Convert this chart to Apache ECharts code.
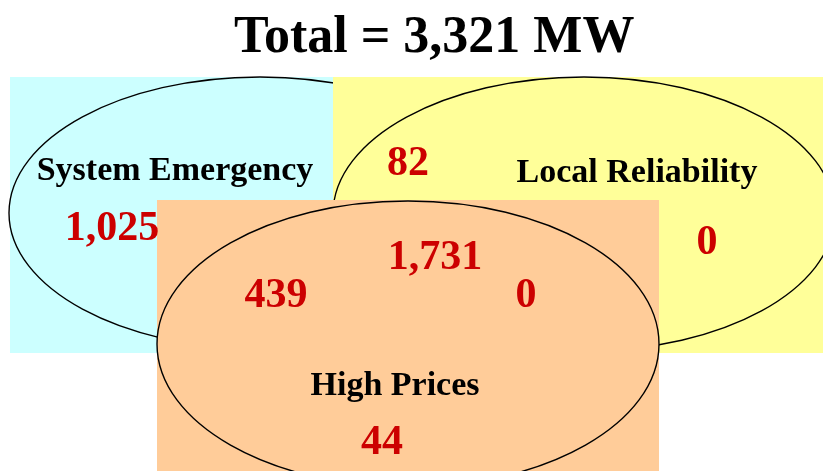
<!DOCTYPE html>
<html>
<head>
<meta charset="utf-8">
<script src="https://cdn.jsdelivr.net/npm/echarts@6/dist/echarts.min.js"></script>
<style>
  html, body { margin: 0; padding: 0; background: #fff; }
  #main { width: 823px; height: 471px; }
</style>
</head>
<body>
<div id="main"></div>
<script>
// sets of the diagram
var setNames = ['System Emergency', 'Local Reliability', 'High Prices'];
var setColors = ['#ccffff', '#ffff99', '#ffcc99'];

// MW in each region
var regionNames = ['SE only', 'SE+LR', 'LR only', 'SE+LR+HP', 'SE+HP', 'LR+HP', 'HP only'];
var regionValues = [1025, 82, 0, 1731, 439, 0, 44];

var total = regionValues.reduce(function (a, b) { return a + b; }, 0);

// layout (pixel-like coords on a hidden 823 x 471 grid)
var boxLayout = [
  { rect: [10, 77, 333, 353], ell: [260, 213, 251, 136] },
  { rect: [333, 77, 830, 353], ell: [584, 214, 251, 137] },
  { rect: [157, 200, 659, 480], ell: [408, 344, 251, 143] }
];
var setLabelPos = [[175, 171], [637, 173], [395, 386]];
var regionPos = [[112, 229], [408, 164], [707, 243], [435, 258], [276, 296], [526, 296], [382, 443]];

var myChart = echarts.init(document.getElementById('main'));

var font = '"Liberation Serif", "Times New Roman", serif';

var option = {
  animation: false,
  title: {
    text: 'Total = ' + total.toLocaleString('en-US') + ' MW',
    left: 229,
    top: 8,
    textStyle: { fontFamily: font, fontWeight: 'bold', fontSize: 52, color: '#000' }
  },
  grid: { left: 0, right: 0, top: 0, bottom: 0 },
  xAxis: { type: 'value', min: 0, max: 823, show: false },
  yAxis: { type: 'value', min: 0, max: 471, inverse: true, show: false },
  series: [
    {
      type: 'custom',
      silent: true,
      data: setNames.map(function (n, i) { return [i]; }),
      renderItem: function (params, api) {
        var i = api.value(0);
        var b = boxLayout[i];
        var p0 = api.coord([b.rect[0], b.rect[1]]);
        var p1 = api.coord([b.rect[2], b.rect[3]]);
        var c = api.coord([b.ell[0], b.ell[1]]);
        var e = api.coord([b.ell[0] + b.ell[2], b.ell[1] + b.ell[3]]);
        return {
          type: 'group',
          children: [
            {
              type: 'rect',
              shape: { x: p0[0], y: p0[1], width: p1[0] - p0[0], height: p1[1] - p0[1] },
              style: { fill: setColors[i] }
            },
            {
              type: 'ellipse',
              shape: { cx: c[0], cy: c[1], rx: e[0] - c[0], ry: e[1] - c[1] },
              style: { fill: 'none', stroke: '#000', lineWidth: 1.4 }
            }
          ]
        };
      },
      z: 1
    },
    {
      type: 'scatter',
      symbolSize: 0,
      silent: true,
      itemStyle: { opacity: 1 },
      data: setNames.map(function (n, i) {
        return { name: n, value: setLabelPos[i] };
      }),
      label: {
        show: true,
        position: 'inside',
        formatter: '{b}',
        fontFamily: font,
        fontWeight: 'bold',
        fontSize: 34,
        color: '#000',
        textBorderWidth: 0
      },
      z: 5
    },
    {
      type: 'scatter',
      symbolSize: 0,
      silent: true,
      itemStyle: { opacity: 1 },
      data: regionValues.map(function (v, i) {
        return { name: regionNames[i], value: regionPos[i].concat([v]) };
      }),
      label: {
        show: true,
        position: 'inside',
        formatter: function (p) { return p.value[2].toLocaleString('en-US'); },
        fontFamily: font,
        fontWeight: 'bold',
        fontSize: 42,
        color: '#cc0000',
        textBorderWidth: 0
      },
      z: 5
    }
  ]
};

myChart.setOption(option);
</script>
</body>
</html>
